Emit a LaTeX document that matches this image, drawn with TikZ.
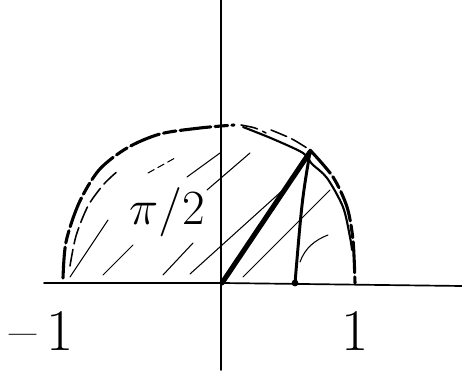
\RequirePackage{fix-cm}
\documentclass[tikz,border=0pt]{standalone}
\usepackage{tikz}
\usetikzlibrary{positioning}

\begin{document}
\begin{tikzpicture}[
  x=0.025cm, y=-0.025cm,
  axis/.style={line width=1.2pt, line cap=round},
  rim/.style={line width=2.2pt, line cap=round, dash pattern=on 22pt off 3pt on 9pt off 3pt},
  rimfaint/.style={line width=1.1pt, line cap=round, dash pattern=on 12pt off 4pt},
  hatch/.style={line width=0.75pt, line cap=round},
  radiusline/.style={line width=3.6pt, line cap=round},
  dropline/.style={line width=2.1pt, line cap=round},
  label/.style={font=\fontsize{42}{48}\selectfont, inner sep=0pt}
]
\useasboundingbox (0,0) rectangle (462,373);

% axes
\coordinate (O) at (222,283);
\coordinate (xl) at (44,283);
\coordinate (xr) at (462,286);
\coordinate (yt) at (221,0);
\coordinate (yb) at (221,370);
\draw[axis] (xl) -- (O) -- (xr);
\draw[axis] (yt) -- (yb);

% half circle, left and top
\draw[rim] plot[smooth] coordinates {(63,278) (66,242) (79,203) (99,170) (127,148) (160,134) (200,128) (234,125)};
\draw[rimfaint] plot[smooth] coordinates {(70,266) (76,236) (88,206) (104,184) (119,170)};
% half circle, right
\draw[rimfaint] plot[smooth] coordinates {(241,125) (255,128) (266,133)};
\draw[rimfaint] plot[smooth] coordinates {(271,130) (292,139) (310,150)};
\draw[rim] plot[smooth] coordinates {(310,150) (333,177) (347,207) (353,240) (355,283)};
\draw[line width=1.5pt, line cap=round] plot[smooth] coordinates {(243,127) (273,139) (303,153) (312,164) (327,178) (343,207) (350,237) (352,250)};

% hatching
\draw[hatch] (70,277) -- (108,220);
\draw[hatch] (103,275) -- (133,245);
\draw[hatch] (163,275) -- (193,243);
\draw[hatch] (190,274) -- (283,190);
\draw[hatch] (243,277) -- (330,190);
\draw[hatch] (300,262) .. controls (305,248) and (315,240) .. (328,235);
\draw[hatch, dash pattern=on 5pt off 3pt] (148,173) -- (175,158);
\draw[hatch] (187,177) -- (220,153);
\draw[hatch] (207,190) -- (250,153);

% radius and its foot
\coordinate (P) at (310,152);
\coordinate (Q) at (295,283);
\draw[radiusline] (O) -- (P);
\draw[dropline] (P) .. controls (302,200) .. (Q);
\fill (Q) circle (3.4);

% labels
\node[label, font=\fontsize{35}{40}\selectfont] (area) at (167,212) {$\pi/2$};
\node[label] (minusone) at (42,331) {--\,1};
\node[label] (one) at (355,331) {1};
\end{tikzpicture}
\end{document}
